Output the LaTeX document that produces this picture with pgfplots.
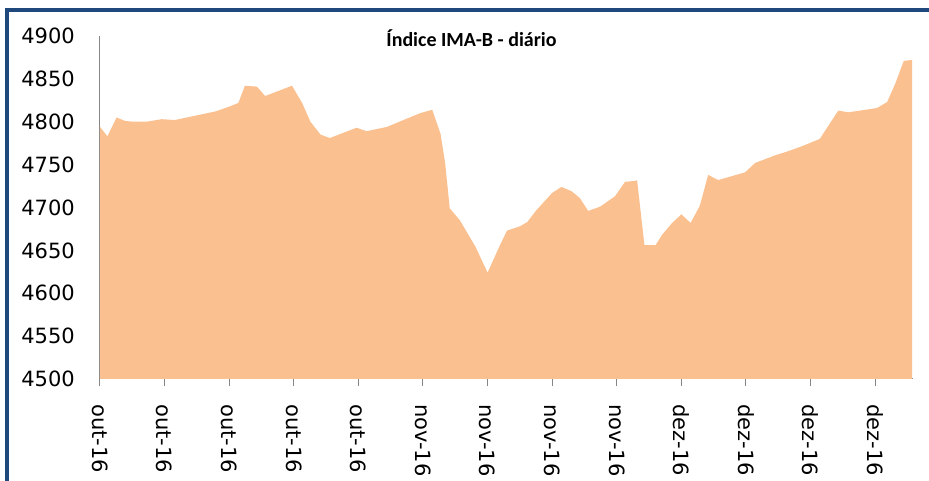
\documentclass[border=0pt]{standalone}
\usepackage{pgfplots}
\pgfplotsset{compat=1.18}
\usepackage{fontspec}
\setmainfont{DejaVu Sans}
\newfontfamily\titlefont{Carlito}
\definecolor{peach}{HTML}{FAC090}
\definecolor{framecol}{HTML}{1F497D}
\definecolor{axisgray}{HTML}{868686}
\begin{document}
\begin{tikzpicture}[x=0.75pt,y=0.75pt]
\path[use as bounding box] (0,0) rectangle (929,481);
\begin{scope}
\clip (0,0) rectangle (929,481);
\draw[line width=3pt, framecol] (7,-30) rectangle (980,471);
\end{scope}
\begin{axis}[
  at={(75pt,76.5pt)}, anchor=south west,
  scale only axis, width=609.75pt, height=257.25pt,
  xmin=0, xmax=88.1, ymin=4500, ymax=4900,
  ytick={4500,4550,...,4900},
  xtick={0,7,...,84},
  xticklabels={out-16,out-16,out-16,out-16,out-16,nov-16,nov-16,nov-16,nov-16,dez-16,dez-16,dez-16,dez-16},
  axis lines*=left,
  axis line style={draw=axisgray, line width=0.75pt},
  tick align=outside,
  major tick length=5.25pt,
  xtick style={draw=axisgray, line width=0.75pt},
  ytick style={draw=none},
  /pgf/number format/assume math mode=true,
  /pgf/number format/1000 sep={},
  tick label style={font=\fontsize{15.75}{18}\selectfont, text=black},
  yticklabel style={anchor=east, inner ysep=0pt, inner xsep=13.5pt},
  xticklabel style={rotate=-90, anchor=west, inner ysep=0pt, inner xsep=13.5pt},
  clip=false,
]
\addplot[fill=peach, draw=none] coordinates {
(0,4794) (0.8,4783) (1.8,4805) (2.7,4801) (3.6,4800) (5.0,4800) (6.7,4803)
(8.1,4802) (10.3,4807) (12.5,4812) (14.1,4818) (15.0,4822) (15.7,4842)
(17.0,4841) (17.9,4830) (20.8,4842) (21.9,4822) (22.8,4800) (23.9,4785)
(24.9,4781) (27.8,4793) (28.9,4789) (31.1,4794) (33.1,4803) (34.7,4810)
(36.0,4814) (36.9,4786) (37.4,4752) (37.9,4699) (39.0,4685) (40.7,4654)
(42.0,4624) (43.3,4655) (44.1,4673) (45.5,4678) (46.3,4683) (47.3,4697)
(49.0,4717) (50.0,4724) (51.1,4719) (52.0,4711) (52.9,4696) (54.2,4701)
(55.8,4713) (56.9,4730) (58.0,4731) (58.2,4732) (59.0,4656) (60.2,4656)
(60.9,4668) (62.0,4682) (63.0,4692) (64.0,4682) (65.0,4702) (65.9,4738)
(67.0,4732) (69.9,4741) (71.0,4752) (73.2,4761) (74.4,4765) (76.2,4772)
(78.0,4780) (80.0,4813) (81.1,4811) (84.2,4816) (85.3,4823) (86.2,4845)
(87.1,4871) (88.0,4872)
} \closedcycle;
\end{axis}
\node[font=\titlefont\bfseries\fontsize{15}{18}\selectfont] at (471.5,443) {Índice IMA-B - diário};
\end{tikzpicture}
\end{document}
